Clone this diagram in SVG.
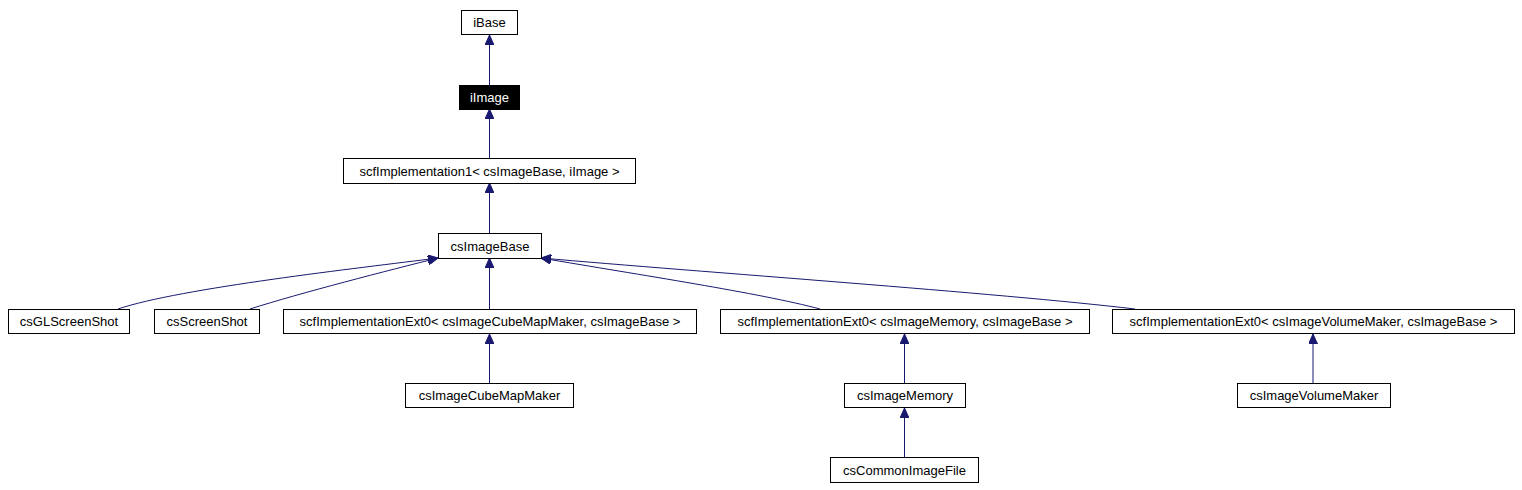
<svg xmlns="http://www.w3.org/2000/svg" width="1522" height="490" viewBox="0 0 1522 490">
<style>
.n rect{fill:#fff;stroke:#000;stroke-width:1}
.n text{font-family:"Liberation Sans",Arial,sans-serif;font-size:13px;fill:#000;text-anchor:middle}
.n.hl rect{fill:#000}
.n.hl text{fill:#fff}
.e path{fill:none;stroke:#191970;stroke-width:1}
</style>
<defs>
<marker id="ah" markerUnits="userSpaceOnUse" markerWidth="10" markerHeight="9" refX="10" refY="4.5" orient="auto">
<path d="M0,0 L10,4.5 L0,9 Z" fill="#191970" stroke="#191970" stroke-width="1"/>
</marker>
</defs>
<rect width="1522" height="490" fill="#fff"/>
<g id="connectors" class="e">
<path d="M489.5,86 V35" marker-end="url(#ah)"/>
<path d="M489.5,159 V109" marker-end="url(#ah)"/>
<path d="M489.5,234 V183" marker-end="url(#ah)"/>
<path d="M489.5,309 V258" marker-end="url(#ah)"/>
<path d="M118,309 C180,288 360,268 438,258" marker-end="url(#ah)"/>
<path d="M250,309 C300,293 390,270 438,258" marker-end="url(#ah)"/>
<path d="M820,309 C760,293 640,275 541,258" marker-end="url(#ah)"/>
<path d="M1135,309 C1000,293 700,272 541,258" marker-end="url(#ah)"/>
<path d="M489.5,383 V334" marker-end="url(#ah)"/>
<path d="M904.5,383 V334" marker-end="url(#ah)"/>
<path d="M904.5,457 V408" marker-end="url(#ah)"/>
<path d="M1313,383 V334" marker-end="url(#ah)"/>
</g>
<g id="iBase" class="n"><rect x="461.5" y="10.5" width="56" height="24"/><text x="489.5" y="27">iBase</text></g>
<g id="iImage" class="n hl"><rect x="459.5" y="85.5" width="60" height="24"/><text x="489.5" y="102">iImage</text></g>
<g id="scfImplementation1" class="n"><rect x="343.5" y="158.5" width="292" height="25"/><text x="489.5" y="176">scfImplementation1&lt; csImageBase, iImage &gt;</text></g>
<g id="csImageBase" class="n"><rect x="438.5" y="233.5" width="103" height="25"/><text x="490" y="251">csImageBase</text></g>
<g id="csGLScreenShot" class="n"><rect x="8.5" y="309.5" width="121" height="24"/><text x="69" y="326">csGLScreenShot</text></g>
<g id="csScreenShot" class="n"><rect x="154.5" y="309.5" width="105" height="24"/><text x="207" y="326">csScreenShot</text></g>
<g id="scfExtCubeMap" class="n"><rect x="283.5" y="309.5" width="413" height="24"/><text x="490" y="326">scfImplementationExt0&lt; csImageCubeMapMaker, csImageBase &gt;</text></g>
<g id="scfExtMemory" class="n"><rect x="720.5" y="309.5" width="369" height="24"/><text x="905" y="326">scfImplementationExt0&lt; csImageMemory, csImageBase &gt;</text></g>
<g id="scfExtVolume" class="n"><rect x="1112.5" y="309.5" width="402" height="24"/><text x="1313.5" y="326">scfImplementationExt0&lt; csImageVolumeMaker, csImageBase &gt;</text></g>
<g id="csImageCubeMapMaker" class="n"><rect x="405.5" y="383.5" width="168" height="24"/><text x="489.5" y="400">csImageCubeMapMaker</text></g>
<g id="csImageMemory" class="n"><rect x="844.5" y="383.5" width="121" height="24"/><text x="905" y="400">csImageMemory</text></g>
<g id="csImageVolumeMaker" class="n"><rect x="1237.5" y="383.5" width="153" height="24"/><text x="1314" y="400">csImageVolumeMaker</text></g>
<g id="csCommonImageFile" class="n"><rect x="830.5" y="457.5" width="148" height="25"/><text x="904.5" y="475">csCommonImageFile</text></g>
</svg>
